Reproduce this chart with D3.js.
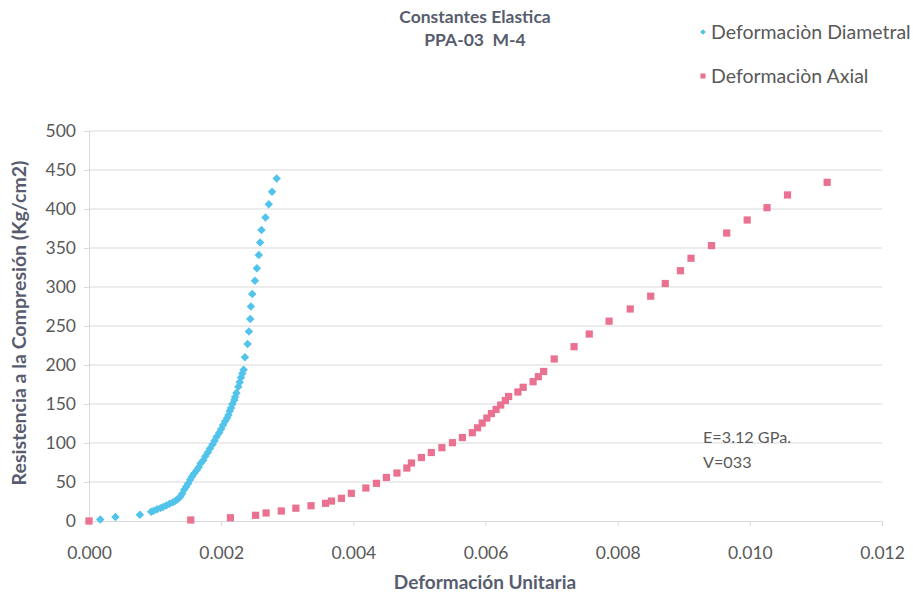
<!DOCTYPE html>
<html>
<head>
<meta charset="utf-8">
<script src="https://cdn.jsdelivr.net/npm/d3@7"></script>
<style>
  html, body { margin: 0; padding: 0; background: #ffffff; }
  svg { display: block; }
  text { font-family: Lato, "Open Sans", sans-serif; }
</style>
</head>
<body>
<svg id="chart" width="913" height="596"></svg>
<script>
// Stress–strain readings for sample PPA-03 M-4
const diametralStrain = [
  0.00017, 0.00040, 0.00077, 0.00094,
  0.00098, 0.00103, 0.00108, 0.00112, 0.00117, 0.00122, 0.00127, 0.00131, 0.00135, 0.00138,
  0.00141, 0.00144, 0.00147, 0.00150, 0.00153, 0.00156, 0.00159, 0.00163, 0.00166, 0.00169,
  0.00173, 0.00176, 0.00180, 0.00183, 0.00187, 0.00190, 0.00193, 0.00197, 0.00200, 0.00203,
  0.00206, 0.00209, 0.00211, 0.00213, 0.00215, 0.00217, 0.00220, 0.00221, 0.00223, 0.00226,
  0.00228, 0.00230, 0.00232, 0.00234,
  0.00236, 0.00240, 0.00242, 0.00244, 0.00245, 0.00247, 0.00251, 0.00254, 0.00257, 0.00259,
  0.00261, 0.00267, 0.00272, 0.00277, 0.00284
];
const diametralStress = [
  2, 5, 8, 12,
  13, 15, 16.5, 18, 20, 22, 24, 26, 28.5, 31,
  35, 40, 44, 48, 53, 57, 61, 65, 69, 74,
  78, 83, 88, 93, 98, 103, 108, 113, 118, 123,
  128, 132, 136, 141, 145, 150, 155, 159, 164, 172,
  178, 184, 189, 194,
  210, 227, 243, 259, 275, 291, 308, 324, 341, 357,
  373, 389, 406, 422, 439
];
const axialStrain = [
  0.00000, 0.00154, 0.00214, 0.00252, 0.00268, 0.00291, 0.00313, 0.00336, 0.00358, 0.00367,
  0.00382, 0.00397, 0.00419, 0.00435, 0.00450, 0.00466, 0.00481, 0.00488, 0.00503, 0.00518,
  0.00534, 0.00550, 0.00565, 0.00580, 0.00588, 0.00595, 0.00602, 0.00609, 0.00616, 0.00623,
  0.00630, 0.00635, 0.00649, 0.00657, 0.00672, 0.00680, 0.00688, 0.00704, 0.00734, 0.00757,
  0.00787, 0.00819, 0.00850, 0.00872, 0.00895, 0.00911, 0.00942, 0.00965, 0.00996, 0.01026,
  0.01057, 0.01117
];
const axialStress = [
  0, 1.3, 4.2, 7.3, 10.3, 12.8, 16.4, 19.6, 22.7, 25.6,
  29.1, 35.5, 42.3, 48.3, 55.8, 61.5, 67.9, 74.4, 81.4, 87.8,
  94, 100.4, 107, 113.2, 119.5, 125.6, 132, 137.8, 143, 148.7,
  154.5, 159.6, 165.4, 171.4, 178.6, 185, 191.7, 207.7, 223.5, 239.7,
  256.2, 271.8, 288.2, 304.5, 320.9, 336.9, 353, 369.2, 385.9, 401.7,
  418, 434.2
];
const xTicks = [0, 0.002, 0.004, 0.006, 0.008, 0.010, 0.012];
const yTicks = [0, 50, 100, 150, 200, 250, 300, 350, 400, 450, 500];
const seriesNames = ["Deformaciòn Diametral", "Deformaciòn Axial"];
const seriesColors = ["#52C4EB", "#EA7290"];
const annotations = ["E=3.12 GPa.", "V=033"];

const svg = d3.select("#chart");
const margin = { left: 89, right: 31, top: 131, bottom: 75 };
const W = 913, H = 596;

const x = d3.scaleLinear().domain([0, 0.012]).range([margin.left, W - margin.right]);
const y = d3.scaleLinear().domain([0, 500]).range([H - margin.bottom, margin.top]);

const textColor = "#595959";
const titleColor = "#575d6e";
const gridColor = "#d9d9d9";

// horizontal gridlines
svg.append("g")
  .selectAll("line")
  .data(yTicks.filter(d => d > 0))
  .join("line")
  .attr("x1", x(0)).attr("x2", x(0.012))
  .attr("y1", d => y(d)).attr("y2", d => y(d))
  .attr("stroke", gridColor).attr("stroke-width", 1);

// y axis
const yAxis = svg.append("g")
  .attr("transform", `translate(${x(0)},0)`)
  .call(d3.axisLeft(y).tickValues(yTicks).tickSize(5).tickPadding(8).tickFormat(d3.format("d")));
yAxis.select(".domain").attr("stroke", gridColor);
yAxis.selectAll(".tick line").attr("stroke", gridColor);
yAxis.selectAll(".tick text")
  .attr("fill", textColor).attr("font-size", 17.5).attr("font-family", "Lato, sans-serif");

// x axis
const xAxis = svg.append("g")
  .attr("transform", `translate(0,${y(0)})`)
  .call(d3.axisBottom(x).tickValues(xTicks).tickSize(5).tickPadding(21).tickFormat(d3.format(".3f")));
xAxis.select(".domain").attr("stroke", gridColor);
xAxis.selectAll(".tick line").attr("stroke", gridColor);
xAxis.selectAll(".tick text")
  .attr("fill", textColor).attr("font-size", 17.5).attr("font-family", "Lato, sans-serif");

// series markers: rotated squares for the diametral series, squares for the axial one
const diamond = d3.symbol().type(d3.symbolSquare).size(36);
const square = d3.symbol().type(d3.symbolSquare).size(52);

svg.append("g")
  .selectAll("path")
  .data(d3.zip(axialStrain, axialStress))
  .join("path")
  .attr("d", square)
  .attr("transform", d => `translate(${x(d[0])},${y(d[1])})`)
  .attr("fill", seriesColors[1]);

svg.append("g")
  .selectAll("path")
  .data(d3.zip(diametralStrain, diametralStress))
  .join("path")
  .attr("d", diamond)
  .attr("transform", d => `translate(${x(d[0])},${y(d[1])}) rotate(45)`)
  .attr("fill", seriesColors[0]);

// title
const title = svg.append("g").attr("font-weight", "bold").attr("fill", titleColor)
  .attr("font-size", 17.5).attr("text-anchor", "middle");
title.append("text").attr("x", 475).attr("y", 23).text("Constantes Elastica");
title.append("text").attr("x", 475).attr("y", 46).attr("xml:space", "preserve").text("PPA-03  M-4");

// legend
const legend = svg.append("g");
seriesNames.forEach((name, i) => {
  const ly = 32 + i * 44;
  legend.append("path")
    .attr("d", d3.symbol().type(d3.symbolSquare).size(i === 0 ? 16 : 26)())
    .attr("transform", `translate(703,${ly})` + (i === 0 ? " rotate(45)" : ""))
    .attr("fill", seriesColors[i]);
  legend.append("text")
    .attr("x", 711).attr("y", ly + 7)
    .attr("font-size", 19.5).attr("fill", textColor)
    .text(name);
});

// annotation
annotations.forEach((t, i) => {
  svg.append("text")
    .attr("x", 703).attr("y", 443 + i * 25)
    .attr("font-size", 16.2).attr("fill", textColor)
    .text(t);
});

// axis titles
svg.append("text")
  .attr("x", 485).attr("y", 589)
  .attr("text-anchor", "middle").attr("font-weight", "bold")
  .attr("font-size", 19).attr("fill", titleColor)
  .text("Deformación Unitaria");

svg.append("text")
  .attr("transform", `translate(26,${y(250) - 3}) rotate(-90)`)
  .attr("text-anchor", "middle").attr("font-weight", "bold")
  .attr("font-size", 19.5).attr("fill", titleColor)
  .text("Resistencia a la Compresión (Kg/cm2)");
</script>
</body>
</html>
